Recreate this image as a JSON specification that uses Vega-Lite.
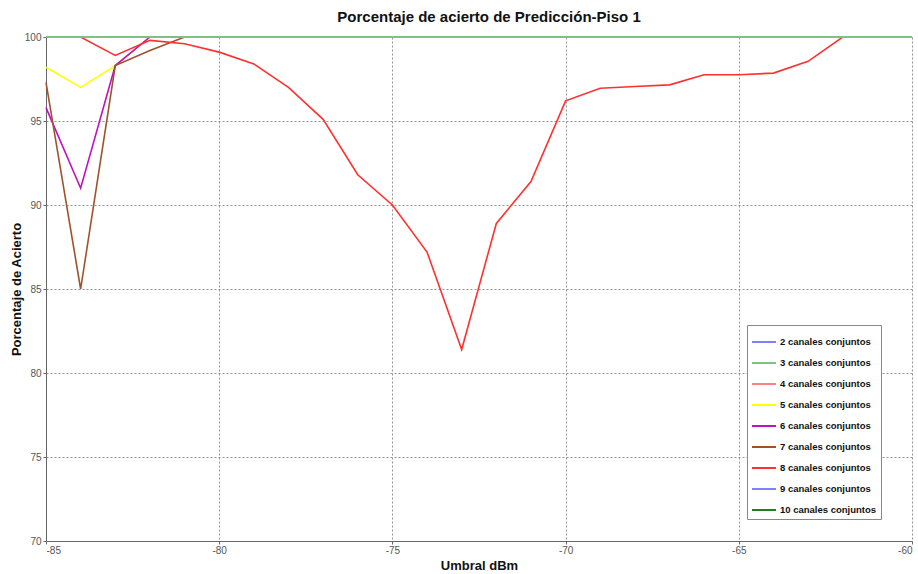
{
  "$schema": "https://vega.github.io/schema/vega-lite/v6.json",
  "autosize": "none",
  "width": 866,
  "height": 504,
  "padding": {"left": 46, "top": 37, "right": 6, "bottom": 33},
  "background": "white",
  "title": {"text": "Porcentaje de acierto de Predicción-Piso 1", "font": "Liberation Sans", "fontSize": 15, "fontWeight": "bold", "color": "#111", "anchor": "middle", "offset": 7, "dx": 10},
  "config": {
    "view": {"stroke": null},
    "axis": {"labelFont": "Liberation Sans", "labelFontSize": 10, "labelColor": "#555", "titleFont": "Liberation Sans", "titleFontSize": 13, "titleFontWeight": "bold", "titleColor": "#111", "domainColor": "#666", "tickColor": "#666", "gridColor": "#888", "gridDash": [2, 2], "gridOpacity": 0.9}
  },
  "data": {"values": [
    {"x": -85, "y": 100, "s": "2 canales conjuntos"},
    {"x": -60, "y": 100, "s": "2 canales conjuntos"},
    {"x": -85, "y": 100, "s": "4 canales conjuntos"},
    {"x": -60, "y": 100, "s": "4 canales conjuntos"},
    {"x": -85, "y": 98.2, "s": "5 canales conjuntos"},
    {"x": -84, "y": 97.0, "s": "5 canales conjuntos"},
    {"x": -83, "y": 98.3, "s": "5 canales conjuntos"},
    {"x": -82, "y": 100, "s": "5 canales conjuntos"},
    {"x": -60, "y": 100, "s": "5 canales conjuntos"},
    {"x": -85, "y": 95.8, "s": "6 canales conjuntos"},
    {"x": -84, "y": 91.0, "s": "6 canales conjuntos"},
    {"x": -83, "y": 98.3, "s": "6 canales conjuntos"},
    {"x": -82, "y": 100, "s": "6 canales conjuntos"},
    {"x": -60, "y": 100, "s": "6 canales conjuntos"},
    {"x": -85, "y": 97.3, "s": "7 canales conjuntos"},
    {"x": -84, "y": 85.0, "s": "7 canales conjuntos"},
    {"x": -83, "y": 98.3, "s": "7 canales conjuntos"},
    {"x": -82, "y": 99.2, "s": "7 canales conjuntos"},
    {"x": -81, "y": 100, "s": "7 canales conjuntos"},
    {"x": -60, "y": 100, "s": "7 canales conjuntos"},
    {"x": -85, "y": 100, "s": "8 canales conjuntos"},
    {"x": -84, "y": 100, "s": "8 canales conjuntos"},
    {"x": -83, "y": 98.9, "s": "8 canales conjuntos"},
    {"x": -82, "y": 99.8, "s": "8 canales conjuntos"},
    {"x": -81, "y": 99.6, "s": "8 canales conjuntos"},
    {"x": -80, "y": 99.1, "s": "8 canales conjuntos"},
    {"x": -79, "y": 98.4, "s": "8 canales conjuntos"},
    {"x": -78, "y": 97.0, "s": "8 canales conjuntos"},
    {"x": -77, "y": 95.1, "s": "8 canales conjuntos"},
    {"x": -76, "y": 91.8, "s": "8 canales conjuntos"},
    {"x": -75, "y": 90.0, "s": "8 canales conjuntos"},
    {"x": -74, "y": 87.2, "s": "8 canales conjuntos"},
    {"x": -73, "y": 81.4, "s": "8 canales conjuntos"},
    {"x": -72, "y": 88.9, "s": "8 canales conjuntos"},
    {"x": -71, "y": 91.4, "s": "8 canales conjuntos"},
    {"x": -70, "y": 96.2, "s": "8 canales conjuntos"},
    {"x": -69, "y": 96.95, "s": "8 canales conjuntos"},
    {"x": -68, "y": 97.05, "s": "8 canales conjuntos"},
    {"x": -67, "y": 97.15, "s": "8 canales conjuntos"},
    {"x": -66, "y": 97.75, "s": "8 canales conjuntos"},
    {"x": -65, "y": 97.75, "s": "8 canales conjuntos"},
    {"x": -64, "y": 97.85, "s": "8 canales conjuntos"},
    {"x": -63, "y": 98.55, "s": "8 canales conjuntos"},
    {"x": -62, "y": 100, "s": "8 canales conjuntos"},
    {"x": -61, "y": 100, "s": "8 canales conjuntos"},
    {"x": -60, "y": 100, "s": "8 canales conjuntos"},
    {"x": -85, "y": 100, "s": "9 canales conjuntos"},
    {"x": -60, "y": 100, "s": "9 canales conjuntos"},
    {"x": -85, "y": 100, "s": "10 canales conjuntos"},
    {"x": -60, "y": 100, "s": "10 canales conjuntos"},
    {"x": -85, "y": 100, "s": "3 canales conjuntos"},
    {"x": -60, "y": 100, "s": "3 canales conjuntos"}
  ]},
  "layer": [
    {
      "mark": {"type": "line", "strokeWidth": 1.6},
      "encoding": {
        "x": {"field": "x", "type": "quantitative", "scale": {"domain": [-85, -60], "nice": false, "zero": false}, "axis": {"values": [-85, -80, -75, -70, -65, -60], "labelExpr": "'' + datum.value", "title": "Umbral dBm", "titlePadding": 4, "tickSize": 3, "labelPadding": 1, "grid": true}},
        "y": {"field": "y", "type": "quantitative", "scale": {"domain": [70, 100], "nice": false, "zero": false}, "axis": {"values": [70, 75, 80, 85, 90, 95, 100], "title": "Porcentaje de Acierto", "titlePadding": 1, "tickSize": 3, "labelPadding": 2, "grid": true}},
        "color": {"field": "s", "type": "nominal",
          "scale": {"domain": ["2 canales conjuntos", "3 canales conjuntos", "4 canales conjuntos", "5 canales conjuntos", "6 canales conjuntos", "7 canales conjuntos", "8 canales conjuntos", "9 canales conjuntos", "10 canales conjuntos"],
                    "range": ["#8080ff", "#80c080", "#ff8080", "#ffff00", "#c010c0", "#a0522d", "#ff3030", "#8080ff", "#208020"]},
          "legend": {"title": null, "orient": "none", "legendX": 701, "legendY": 288, "symbolType": "stroke", "symbolSize": 576, "symbolStrokeWidth": 2, "labelFont": "Liberation Sans", "labelFontSize": 9.5, "labelFontWeight": "bold", "labelColor": "#111", "rowPadding": 3, "padding": 4, "strokeColor": "#888", "fillColor": "white", "labelOffset": 3}},
        "strokeWidth": {"condition": {"test": "datum.s === '8 canales conjuntos'", "value": 2.2}, "value": 1.5}
      }
    },
    {
      "transform": [{"filter": "datum.s === '3 canales conjuntos'"}],
      "mark": {"type": "line", "strokeWidth": 2.2, "color": "#80c080"},
      "encoding": {
        "x": {"field": "x", "type": "quantitative"},
        "y": {"field": "y", "type": "quantitative"}
      }
    }
  ]
}
